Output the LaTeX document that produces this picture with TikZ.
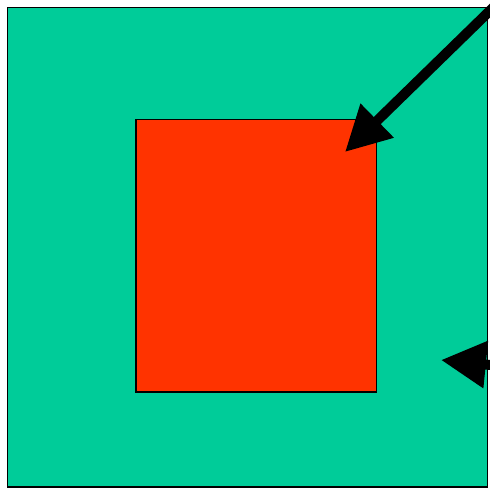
\documentclass[tikz,border=0pt]{standalone}
\usetikzlibrary{arrows.meta}
\definecolor{sea}{RGB}{0,204,153}
\definecolor{redbox}{RGB}{255,51,0}
\begin{document}
\begin{tikzpicture}[x=1pt,y=-1pt,
  boxline/.style={draw=black,line width=1.5pt},
  bigarrow/.style={line width=10pt,-{Triangle[length=45pt,width=45pt]}}]
\useasboundingbox (0,0) rectangle (490,488);
\fill[white] (0,0) rectangle (490,488);
\draw[boxline,fill=sea] (7.5,7.5) rectangle (487.5,487);
\draw[boxline,fill=redbox] (136,119.5) rectangle (376.5,392);
\coordinate (a1s) at (506,-5);
\coordinate (a1e) at (345,152);
\coordinate (a2s) at (540,370);
\coordinate (a2e) at (441,360);
\draw[bigarrow] (a1s) -- (a1e);
\draw[bigarrow] (a2s) -- (a2e);
\end{tikzpicture}
\end{document}
